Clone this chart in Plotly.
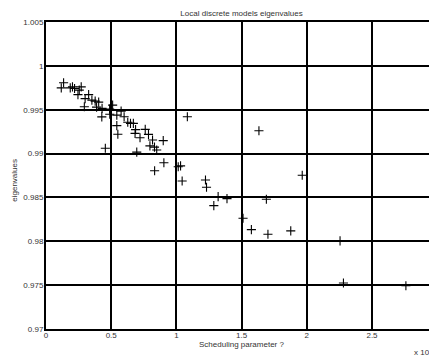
import plotly.graph_objects as go

# Scheduling parameter (x 10^5) and eigenvalues
sched = [0.135, 0.117, 0.186, 0.203, 0.219, 0.270, 0.255, 0.245, 0.300, 0.327,
         0.352, 0.377, 0.404, 0.294, 0.388, 0.430, 0.511, 0.488, 0.428, 0.489,
         0.543, 0.576, 0.599, 0.627, 0.648, 0.670, 0.543, 0.551, 0.687, 0.683,
         0.721, 0.761, 0.786, 0.817, 0.899, 0.797, 0.832, 0.849, 0.455, 0.696,
         0.904, 0.833, 1.014, 1.032, 1.084, 1.044, 1.223, 1.231, 1.320, 1.388,
         1.287, 1.690, 1.633, 1.511, 1.575, 1.702, 1.877, 1.965, 2.255, 2.281,
         2.760]
eig = [0.99808, 0.99749, 0.99749, 0.99760, 0.99742, 0.99760, 0.99723, 0.99672, 0.99626, 0.99672,
       0.99609, 0.99598, 0.99586, 0.99533, 0.99529, 0.99515, 0.99552, 0.99507, 0.99418, 0.99448,
       0.99438, 0.99484, 0.99419, 0.99357, 0.99344, 0.99344, 0.99319, 0.99220, 0.99273, 0.99230,
       0.99180, 0.99276, 0.99219, 0.99154, 0.99148, 0.99088, 0.99074, 0.99040, 0.99060, 0.99017,
       0.98896, 0.98805, 0.98850, 0.98860, 0.99419, 0.98687, 0.98699, 0.98616, 0.98509, 0.98486,
       0.98407, 0.98479, 0.99260, 0.98263, 0.98133, 0.98081, 0.98119, 0.98752, 0.98005, 0.97524,
       0.97493]

x_ticks = [0, 0.5, 1, 1.5, 2, 2.5, 3]
x_tick_labels = ["0", "0.5", "1", "1.5", "2", "2.5", "3"]
y_ticks = [0.97, 0.975, 0.98, 0.985, 0.99, 0.995, 1.0, 1.005]
y_tick_labels = ["0.97", "0.975", "0.98", "0.985", "0.99", "0.995", "1", "1.005"]

FONT = "Liberation Sans, Arial, sans-serif"
TXT = "#333333"

# the page has an 8px body margin, so the figure is sized to fit the window
W, H = 429, 348

fig = go.Figure()
fig.add_trace(go.Scatter(
    x=sched, y=eig, mode="markers",
    marker=dict(symbol="cross-thin", size=6.5, line=dict(color="black", width=1.1)),
    showlegend=False, hoverinfo="skip",
))

fig.update_layout(
    template="none",
    width=W, height=H,
    margin=dict(l=38, r=0, t=14, b=27, pad=0),
    paper_bgcolor="white", plot_bgcolor="white",
    font=dict(family=FONT, size=8, color=TXT),
    title=dict(text="Local discrete models eigenvalues", x=233.5 / W, xanchor="center",
               xref="container", yref="container",
               y=1 - 5.5 / H, yanchor="middle", font=dict(size=8, color=TXT)),
    xaxis=dict(range=[0, 2.9985], tickvals=x_ticks, ticktext=x_tick_labels,
               tickfont=dict(size=8, color=TXT),
               showgrid=True, gridcolor="black", gridwidth=1.5,
               showline=True, linecolor="black", linewidth=2, mirror=True,
               zeroline=False, ticks="", ticklabelstandoff=-3, automargin=False),
    yaxis=dict(range=[0.97, 1.005], tickvals=y_ticks, ticktext=y_tick_labels,
               tickfont=dict(size=8, color=TXT),
               showgrid=True, gridcolor="black", gridwidth=1.5,
               showline=True, linecolor="black", linewidth=2, mirror=False,
               zeroline=False, ticks="", ticklabelstandoff=-1, automargin=False),
    annotations=[
        dict(text="Scheduling parameter ?", xref="paper", yref="paper",
             x=(233.7 - 38) / (W - 38), y=-(336.3 - 321.3) / (H - 41),
             xanchor="center", yanchor="middle", showarrow=False,
             font=dict(size=8, color=TXT)),
        dict(text="eigenvalues", xref="paper", yref="paper", textangle=-90,
             x=-(38 - 7) / (W - 38), y=(321.3 - 173) / (H - 41),
             xanchor="center", yanchor="middle", showarrow=False,
             font=dict(size=8, color=TXT)),
        dict(text="x 10<sup>5</sup>", xref="paper", yref="paper",
             x=1.0, y=-(344 - 321.3) / (H - 41), xanchor="right", yanchor="middle",
             xshift=-3, showarrow=False, font=dict(size=8, color=TXT)),
    ],
)

fig.write_html("out.html")
